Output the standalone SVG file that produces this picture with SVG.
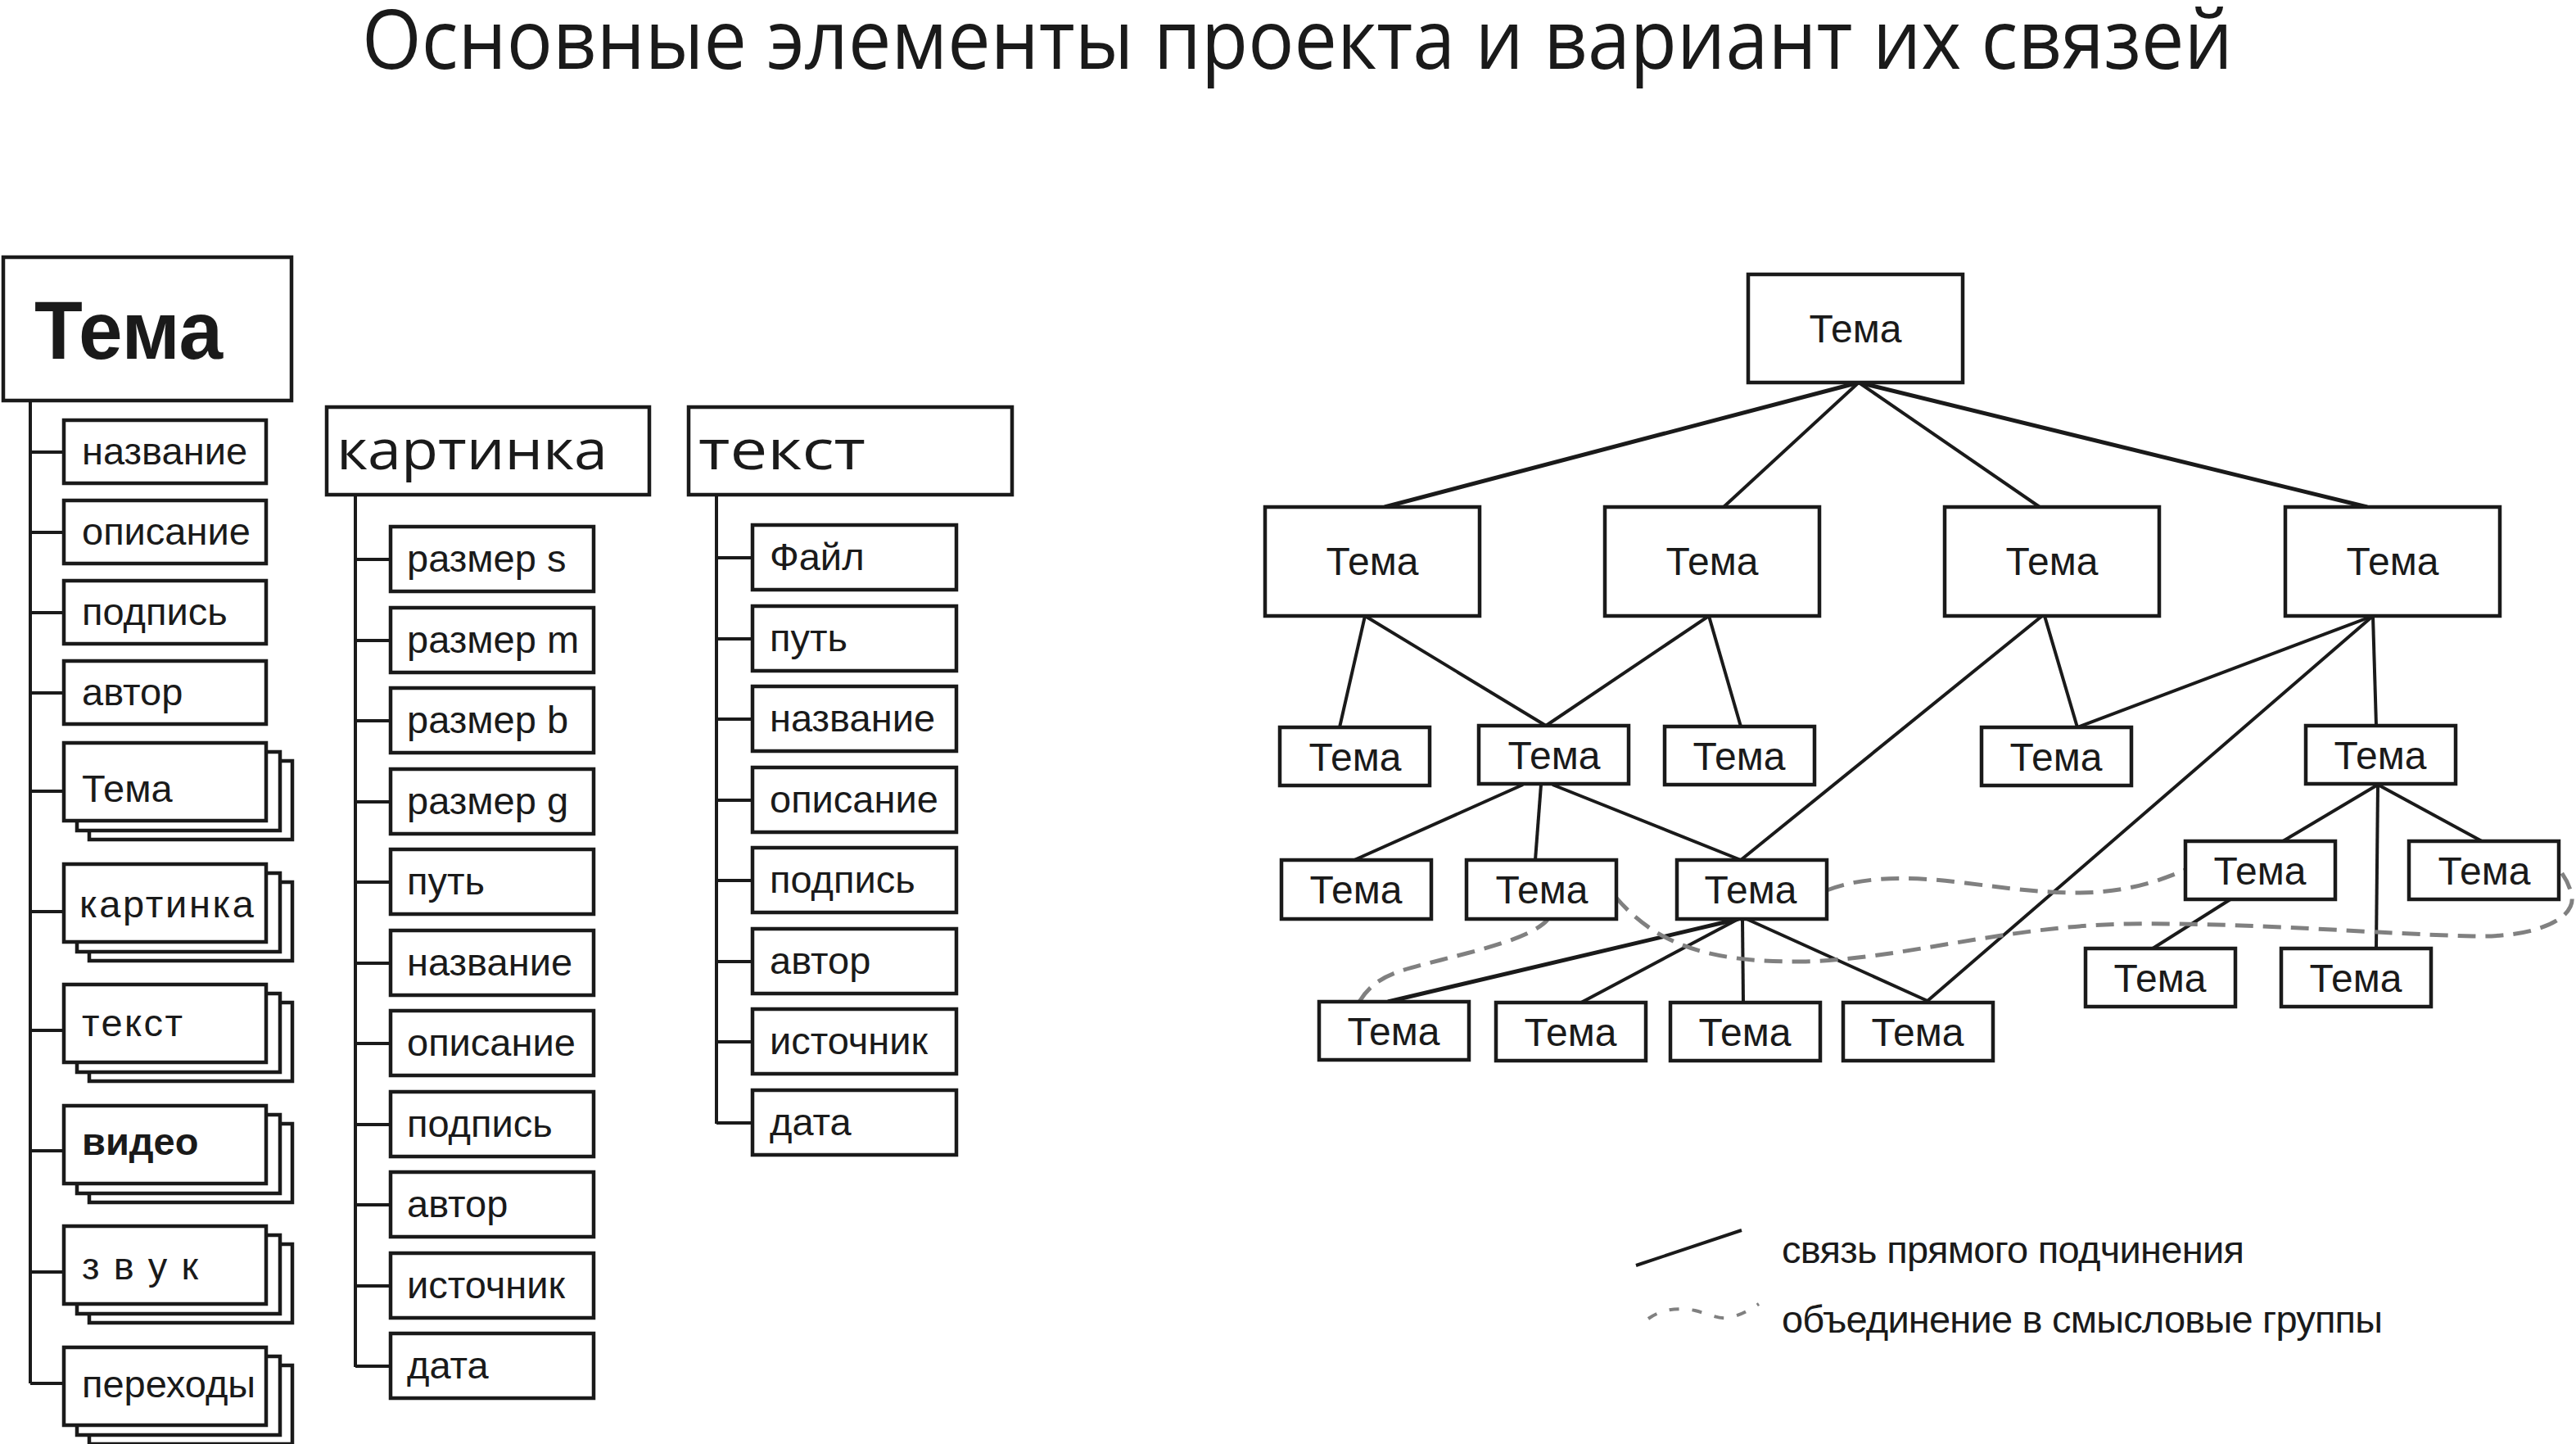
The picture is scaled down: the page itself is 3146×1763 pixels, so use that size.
<svg xmlns="http://www.w3.org/2000/svg" width="3146" height="1763" viewBox="0 0 3146 1763">
<style>
.bg{fill:#fff}
.box{fill:#fff;stroke:#1a1a1a;stroke-width:4.5}
.ln{fill:none;stroke:#1a1a1a;stroke-width:4}
.lnb{fill:none;stroke:#1a1a1a;stroke-width:5}
.dash{fill:none;stroke:#808080;stroke-width:5;stroke-dasharray:22 12}
.t{font-family:"Liberation Sans",Arial,sans-serif;font-size:47px;fill:#1a1a1a}
.tc{font-family:"Liberation Sans",Arial,sans-serif;font-size:48px;fill:#1a1a1a;text-anchor:middle}
.h{font-family:"Open Sans","Noto Sans",sans-serif;fill:#1a1a1a}
</style>
<rect class="bg" x="0" y="0" width="3146" height="1763"/>
<text class="h" x="442" y="84" font-size="100" textLength="2285" lengthAdjust="spacingAndGlyphs">Основные элементы проекта и вариант их связей</text>

<g id="connectors">
  <!-- left column -->
  <path class="ln" d="M37,489V1689M37,552H78M37,650H78M37,748H78M37,846H78M37,966H78M37,1113H78M37,1258H78M37,1405H78M37,1553H78M37,1689H78"/>
  <!-- kartinka column -->
  <path class="ln" d="M434,604V1669M434,683H477M434,782H477M434,880H477M434,979H477M434,1077H477M434,1176H477M434,1274H477M434,1373H477M434,1471H477M434,1570H477M434,1668H477"/>
  <!-- tekst column -->
  <path class="ln" d="M875,604V1372M875,681H919M875,780H919M875,878H919M875,977H919M875,1075H919M875,1174H919M875,1272H919M875,1371H919"/>
  <!-- tree -->
  <line class="lnb" x1="2270" y1="467" x2="1691" y2="619"/>
  <line class="ln" x1="2270" y1="467" x2="2105" y2="619"/>
  <line class="ln" x1="2270" y1="467" x2="2491" y2="619"/>
  <line class="lnb" x1="2270" y1="467" x2="2891" y2="619"/>
  <line class="ln" x1="1667" y1="752" x2="1636" y2="888"/>
  <line class="ln" x1="1667" y1="752" x2="1888" y2="886"/>
  <line class="ln" x1="2087" y1="752" x2="1888" y2="886"/>
  <line class="ln" x1="2087" y1="752" x2="2126" y2="887"/>
  <line class="ln" x1="2494" y1="752" x2="2126" y2="1050"/>
  <line class="ln" x1="2497" y1="752" x2="2537" y2="888"/>
  <line class="ln" x1="2898" y1="752" x2="2537" y2="888"/>
  <line class="ln" x1="2898" y1="752" x2="2354" y2="1222"/>
  <line class="ln" x1="2898" y1="752" x2="2902" y2="886"/>
  <line class="ln" x1="1860" y1="958" x2="1654" y2="1050"/>
  <line class="ln" x1="1882" y1="958" x2="1875" y2="1050"/>
  <line class="ln" x1="1896" y1="958" x2="2126" y2="1050"/>
  <line class="lnb" x1="2123" y1="1122" x2="1695" y2="1223"/>
  <line class="ln" x1="2123" y1="1122" x2="1931" y2="1224"/>
  <line class="ln" x1="2128" y1="1122" x2="2129" y2="1224"/>
  <line class="ln" x1="2133" y1="1122" x2="2354" y2="1222"/>
  <line class="ln" x1="2904" y1="958" x2="2788" y2="1027"/>
  <line class="ln" x1="2904" y1="958" x2="3031" y2="1027"/>
  <line class="ln" x1="2904" y1="958" x2="2902" y2="1158"/>
  <line class="ln" x1="2724" y1="1098" x2="2629" y2="1158"/>
  <!-- semantic groups -->
  <path class="dash" d="M1660,1223 C1680,1190 1710,1185 1760,1172 S1870,1145 1890,1123"/>
  <path class="dash" d="M1973,1095 C2020,1150 2080,1175 2200,1174 C2320,1172 2450,1130 2600,1128 C2750,1126 2900,1140 3020,1143 C3100,1145 3150,1120 3140,1090 C3136,1075 3130,1068 3126,1062"/>
  <path class="dash" d="M2231,1087 C2270,1072 2320,1068 2400,1078 C2480,1088 2540,1096 2600,1084 C2630,1078 2655,1068 2669,1062"/>
</g>

<!-- left column -->
<g id="tema-main"><rect class="box" x="4" y="314" width="352" height="175"/><text x="42" y="438" font-family="Liberation Sans, Arial, sans-serif" font-weight="bold" font-size="100" fill="#1a1a1a" textLength="230" lengthAdjust="spacingAndGlyphs">Тема</text></g>
<g id="l-nazvanie"><rect class="box" x="78" y="513" width="247" height="77"/><text class="t" x="100" y="567">название</text></g>
<g id="l-opisanie"><rect class="box" x="78" y="611" width="247" height="77"/><text class="t" x="100" y="665">описание</text></g>
<g id="l-podpis"><rect class="box" x="78" y="709" width="247" height="77"/><text class="t" x="100" y="763">подпись</text></g>
<g id="l-avtor"><rect class="box" x="78" y="807" width="247" height="77"/><text class="t" x="100" y="861">автор</text></g>
<g id="l-tema"><rect class="box" x="109" y="929" width="248" height="96"/><rect class="box" x="94" y="918" width="248" height="96"/><rect class="box" x="78" y="907" width="247" height="95"/><text class="t" x="100" y="979">Тема</text></g>
<g id="l-kartinka"><rect class="box" x="109" y="1077" width="248" height="96"/><rect class="box" x="94" y="1066" width="248" height="96"/><rect class="box" x="78" y="1055" width="247" height="95"/><text class="t" x="97" y="1120" textLength="213" lengthAdjust="spacing">картинка</text></g>
<g id="l-tekst"><rect class="box" x="109" y="1224" width="248" height="96"/><rect class="box" x="94" y="1213" width="248" height="96"/><rect class="box" x="78" y="1202" width="247" height="95"/><text class="t" x="100" y="1265" textLength="123" lengthAdjust="spacing">текст</text></g>
<g id="l-video"><rect class="box" x="109" y="1372" width="248" height="96"/><rect class="box" x="94" y="1361" width="248" height="96"/><rect class="box" x="78" y="1350" width="247" height="95"/><text class="t" x="100" y="1410" font-weight="bold">видео</text></g>
<g id="l-zvuk"><rect class="box" x="109" y="1519" width="248" height="96"/><rect class="box" x="94" y="1508" width="248" height="96"/><rect class="box" x="78" y="1497" width="247" height="95"/><text class="t" x="100" y="1562" textLength="142" lengthAdjust="spacing">з в у к</text></g>
<g id="l-perehody"><rect class="box" x="109" y="1667" width="248" height="96"/><rect class="box" x="94" y="1656" width="248" height="96"/><rect class="box" x="78" y="1645" width="247" height="95"/><text class="t" x="100" y="1706">переходы</text></g>

<!-- kartinka column -->
<g id="k-head"><rect class="box" x="399" y="497" width="394" height="107"/><text class="h" x="411" y="573" font-size="68" textLength="331" lengthAdjust="spacingAndGlyphs">картинка</text></g>
<g id="k-s"><rect class="box" x="477" y="643" width="248" height="79"/><text class="t" x="497" y="698">размер s</text></g>
<g id="k-m"><rect class="box" x="477" y="742" width="248" height="79"/><text class="t" x="497" y="797">размер m</text></g>
<g id="k-b"><rect class="box" x="477" y="840" width="248" height="79"/><text class="t" x="497" y="895">размер b</text></g>
<g id="k-g"><rect class="box" x="477" y="939" width="248" height="79"/><text class="t" x="497" y="994">размер g</text></g>
<g id="k-put"><rect class="box" x="477" y="1037" width="248" height="79"/><text class="t" x="497" y="1092">путь</text></g>
<g id="k-nazvanie"><rect class="box" x="477" y="1136" width="248" height="79"/><text class="t" x="497" y="1191">название</text></g>
<g id="k-opisanie"><rect class="box" x="477" y="1234" width="248" height="79"/><text class="t" x="497" y="1289">описание</text></g>
<g id="k-podpis"><rect class="box" x="477" y="1333" width="248" height="79"/><text class="t" x="497" y="1388">подпись</text></g>
<g id="k-avtor"><rect class="box" x="477" y="1431" width="248" height="79"/><text class="t" x="497" y="1486">автор</text></g>
<g id="k-istochnik"><rect class="box" x="477" y="1530" width="248" height="79"/><text class="t" x="497" y="1585">источник</text></g>
<g id="k-data"><rect class="box" x="477" y="1628" width="248" height="79"/><text class="t" x="497" y="1683">дата</text></g>

<!-- tekst column -->
<g id="t-head"><rect class="box" x="841" y="497" width="395" height="107"/><text class="h" x="853" y="573" font-size="68" textLength="204" lengthAdjust="spacingAndGlyphs">текст</text></g>
<g id="t-fail"><rect class="box" x="919" y="641" width="249" height="79"/><text class="t" x="940" y="696">Файл</text></g>
<g id="t-put"><rect class="box" x="919" y="740" width="249" height="79"/><text class="t" x="940" y="795">путь</text></g>
<g id="t-nazvanie"><rect class="box" x="919" y="838" width="249" height="79"/><text class="t" x="940" y="893">название</text></g>
<g id="t-opisanie"><rect class="box" x="919" y="937" width="249" height="79"/><text class="t" x="940" y="992">описание</text></g>
<g id="t-podpis"><rect class="box" x="919" y="1035" width="249" height="79"/><text class="t" x="940" y="1090">подпись</text></g>
<g id="t-avtor"><rect class="box" x="919" y="1134" width="249" height="79"/><text class="t" x="940" y="1189">автор</text></g>
<g id="t-istochnik"><rect class="box" x="919" y="1232" width="249" height="79"/><text class="t" x="940" y="1287">источник</text></g>
<g id="t-data"><rect class="box" x="919" y="1331" width="249" height="79"/><text class="t" x="940" y="1386">дата</text></g>

<!-- tree -->
<g id="root"><rect class="box" x="2135" y="335" width="262" height="132"/><text class="tc" x="2266" y="418">Тема</text></g>
<g id="A"><rect class="box" x="1545" y="619" width="262" height="133"/><text class="tc" x="1676" y="702">Тема</text></g>
<g id="B"><rect class="box" x="1960" y="619" width="262" height="133"/><text class="tc" x="2091" y="702">Тема</text></g>
<g id="C"><rect class="box" x="2375" y="619" width="262" height="133"/><text class="tc" x="2506" y="702">Тема</text></g>
<g id="D"><rect class="box" x="2791" y="619" width="262" height="133"/><text class="tc" x="2922" y="702">Тема</text></g>
<g id="a1"><rect class="box" x="1563" y="888" width="183" height="71"/><text class="tc" x="1655" y="941">Тема</text></g>
<g id="a2"><rect class="box" x="1806" y="886" width="183" height="71"/><text class="tc" x="1898" y="939">Тема</text></g>
<g id="a3"><rect class="box" x="2033" y="887" width="183" height="71"/><text class="tc" x="2124" y="940">Тема</text></g>
<g id="a4"><rect class="box" x="2420" y="888" width="183" height="71"/><text class="tc" x="2511" y="941">Тема</text></g>
<g id="a5"><rect class="box" x="2816" y="886" width="183" height="71"/><text class="tc" x="2907" y="939">Тема</text></g>
<g id="b1"><rect class="box" x="1565" y="1050" width="183" height="72"/><text class="tc" x="1656" y="1103">Тема</text></g>
<g id="b2"><rect class="box" x="1791" y="1050" width="183" height="72"/><text class="tc" x="1883" y="1103">Тема</text></g>
<g id="b3"><rect class="box" x="2048" y="1050" width="183" height="72"/><text class="tc" x="2138" y="1103">Тема</text></g>
<g id="d1"><rect class="box" x="2669" y="1027" width="183" height="71"/><text class="tc" x="2760" y="1080">Тема</text></g>
<g id="d2"><rect class="box" x="2942" y="1027" width="183" height="71"/><text class="tc" x="3034" y="1080">Тема</text></g>
<g id="c1"><rect class="box" x="1611" y="1223" width="183" height="71"/><text class="tc" x="1702" y="1276">Тема</text></g>
<g id="c2"><rect class="box" x="1827" y="1224" width="183" height="71"/><text class="tc" x="1918" y="1277">Тема</text></g>
<g id="c3"><rect class="box" x="2040" y="1224" width="183" height="71"/><text class="tc" x="2131" y="1277">Тема</text></g>
<g id="c4"><rect class="box" x="2251" y="1224" width="183" height="71"/><text class="tc" x="2342" y="1277">Тема</text></g>
<g id="e1"><rect class="box" x="2547" y="1158" width="183" height="71"/><text class="tc" x="2638" y="1211">Тема</text></g>
<g id="e2"><rect class="box" x="2786" y="1158" width="183" height="71"/><text class="tc" x="2877" y="1211">Тема</text></g>

<!-- legend -->
<g id="legend">
  <line class="ln" x1="1998" y1="1545" x2="2127" y2="1502" stroke-width="4.5"/>
  <path fill="none" stroke="#808080" stroke-width="4" stroke-dasharray="12 16" d="M2013,1610 C2030,1598 2050,1596 2070,1600 C2090,1605 2100,1612 2115,1608 C2130,1604 2140,1597 2148,1592"/>
  <text class="t" x="2176" y="1542" font-size="44" textLength="565" lengthAdjust="spacing">связь прямого подчинения</text>
  <text class="t" x="2176" y="1627" font-size="44" textLength="734" lengthAdjust="spacing">объединение в смысловые группы</text>
</g>
</svg>
